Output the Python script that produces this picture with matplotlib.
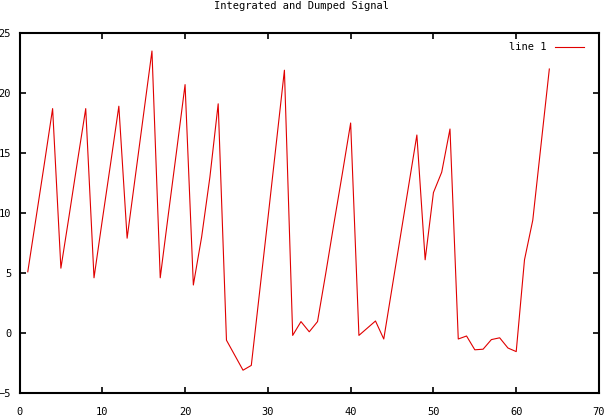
import matplotlib
matplotlib.use("Agg")
import matplotlib.pyplot as plt

# signal samples, x = 1..64
x_vals = list(range(1, 65))
y_vals = [5.1, 9.6, 14.1, 18.7, 5.4, 9.8, 14.3, 18.7,
          4.6, 9.4, 14.1, 18.9, 7.9, 13.1, 18.3, 23.5,
          4.6, 10.0, 15.3, 20.7, 4.0, 8.0, 13.0, 19.1,
          -0.6, -1.85, -3.1, -2.7, 3.4, 9.5, 15.7, 21.9,
          -0.2, 0.95, 0.1, 0.95, 5.0, 9.2, 13.3, 17.5,
          -0.2, 0.4, 1.0, -0.5, 3.75, 8.0, 12.25, 16.5,
          6.1, 11.7, 13.4, 17.0, -0.5, -0.25, -1.4, -1.35,
          -0.55, -0.4, -1.25, -1.55, 6.1, 9.4, 15.7, 22.0]
x_ticks = [0, 10, 20, 30, 40, 50, 60, 70]
y_ticks = [-5, 0, 5, 10, 15, 20, 25]

plt.rcParams['font.family'] = ['DejaVu Sans Mono']
plt.rcParams['font.size'] = 7.5

fig = plt.figure(figsize=(6.04, 4.17), dpi=100)
ax = fig.add_axes([19.5/604, 24/417, 579.5/604, 360/417])

ax.plot(x_vals, y_vals, color='#e00000', lw=0.8, label='line 1')

ax.set_xlim(0, 70)
ax.set_ylim(-5, 25)
ax.set_xticks(x_ticks)
ax.set_yticks(y_ticks)
ax.tick_params(direction='in', length=4, width=1.2, top=True, right=True)
ax.tick_params(axis='x', pad=10)
ax.tick_params(axis='y', pad=6)
for s in ax.spines.values():
    s.set_linewidth(1.5)

fig.text(0.5, 1 - 6/417, 'Integrated and Dumped Signal', ha='center', va='center', fontsize=7.5)

ax.legend(loc='upper right', bbox_to_anchor=(0.99, 1.0), markerfirst=False,
          frameon=False, handlelength=2.8, handletextpad=0.8, fontsize=7.5)

plt.savefig('out.png', dpi=100)
